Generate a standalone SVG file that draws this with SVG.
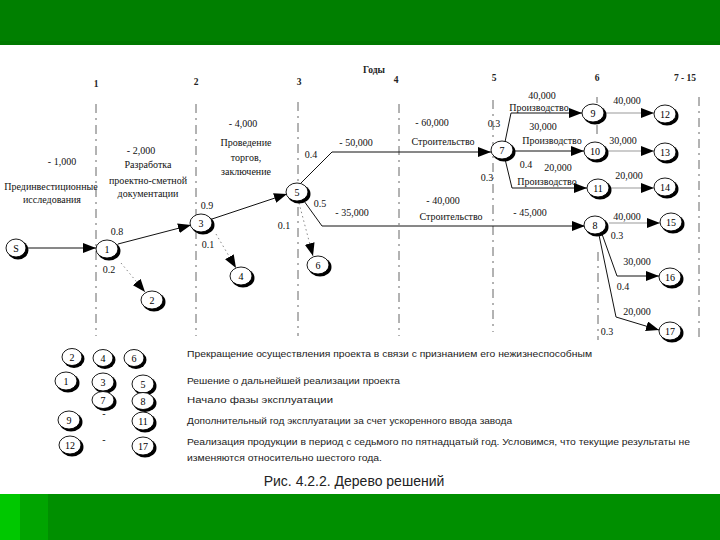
<svg xmlns="http://www.w3.org/2000/svg" width="720" height="540" viewBox="0 0 720 540">
<defs>
<style>
.t{font-family:"Liberation Serif","DejaVu Serif",serif;font-size:10px;fill:#111;text-anchor:middle}
.yr{font-family:"Liberation Serif","DejaVu Serif",serif;font-size:9.5px;font-weight:bold;fill:#222;text-anchor:middle}
.lg{font-family:"Liberation Sans","DejaVu Sans",sans-serif;font-size:9.5px;fill:#222}
.cap{font-family:"Liberation Sans","DejaVu Sans",sans-serif;font-size:14px;fill:#222;text-anchor:middle}
.sh{fill:#000}
.fc{fill:#fff;stroke:#000;stroke-width:0.9}
.nt{font-family:"Liberation Serif","DejaVu Serif",serif;font-size:10px;fill:#000;text-anchor:middle}
.yl{stroke:#666;stroke-width:1;stroke-dasharray:9 5 2 5;fill:none}
.e{stroke:#111;stroke-width:1;fill:none;marker-end:url(#ah)}
.g{stroke:#999;stroke-width:1;fill:none;marker-end:url(#ah)}
.d{stroke:#888;stroke-width:1;stroke-dasharray:1.5 3;fill:none;marker-end:url(#ah)}
</style>
<marker id="ah" markerUnits="userSpaceOnUse" markerWidth="13" markerHeight="10" refX="13" refY="5" orient="auto">
<path d="M0,0 L13,5 L0,10 z" fill="#000"/>
</marker>
</defs>
<rect x="0" y="0" width="720" height="540" fill="#fff"/>
<rect x="0" y="0" width="720" height="45" fill="#007f00"/>
<rect x="0" y="41" width="720" height="4" fill="#007800"/>
<rect x="0" y="494" width="720" height="46" fill="#008f00"/>
<rect x="0" y="494" width="48" height="46" fill="#00a400"/>
<rect x="0" y="494" width="20" height="46" fill="#00c800"/>

<g id="years">
<text class="yr" x="374" y="73">Годы</text>
<text class="yr" x="96" y="87">1</text>
<text class="yr" x="196" y="85">2</text>
<text class="yr" x="299" y="85">3</text>
<text class="yr" x="396" y="83">4</text>
<text class="yr" x="494" y="81">5</text>
<text class="yr" x="597" y="81">6</text>
<text class="yr" x="685" y="81">7 - 15</text>
<path class="yl" d="M96,104 V336 M196,104 V336 M298,102 V336 M399,104 V336 M493,100 V332 M597,97 V103 M597,125 V136 M598,252 V340 M699,97 V340"/>
</g>

<g id="connectors">
<path class="e" d="M26,248 H96"/>
<path class="e" d="M118,244 L191,225"/>
<path class="d" d="M121,263 L145,292"/>
<path class="e" d="M212,219 L287,194"/>
<path class="d" d="M216,234 L236,268"/>
<path class="d" d="M299,203 L313,256"/>
<path class="e" d="M301,183 L332,152 H491"/>
<path class="e" d="M304,201 L322,226 H585"/>
<path class="e" d="M505,142 L511,113 H582"/>
<path class="e" d="M513,151 H584"/>
<path class="e" d="M505,159 L512,188 H587"/>
<path class="g" d="M606,113 H654"/>
<path class="g" d="M608,151 H654"/>
<path class="g" d="M611,188 H654"/>
<path class="g" d="M609,223 H660"/>
<path class="e" d="M602,234 L617,276 H659"/>
<path class="e" d="M599,235 L616,317 L659,330"/>
</g>

<g id="labels">
<text class="t" x="62" y="165">- 1,000</text>
<text class="t" x="51" y="190">Прединвестиционные</text>
<text class="t" x="52" y="203">исследования</text>
<text class="t" x="141" y="154">- 2,000</text>
<text class="t" x="148" y="168">Разработка</text>
<text class="t" x="148" y="184">проектно-сметной</text>
<text class="t" x="148" y="197">документации</text>
<text class="t" x="243" y="127">- 4,000</text>
<text class="t" x="246" y="146">Проведение</text>
<text class="t" x="246" y="161">торгов,</text>
<text class="t" x="246" y="175">заключение</text>
<text class="t" x="117" y="235">0.8</text>
<text class="t" x="109" y="273">0.2</text>
<text class="t" x="207" y="209">0.9</text>
<text class="t" x="208" y="248">0.1</text>
<text class="t" x="311" y="158">0.4</text>
<text class="t" x="320" y="207">0.5</text>
<text class="t" x="284" y="229">0.1</text>
<text class="t" x="356" y="146">- 50,000</text>
<text class="t" x="432" y="126">- 60,000</text>
<text class="t" x="443" y="145">Строительство</text>
<text class="t" x="352" y="216">- 35,000</text>
<text class="t" x="443" y="204">- 40,000</text>
<text class="t" x="451" y="220">Строительство</text>
<text class="t" x="530" y="216">- 45,000</text>
<text class="t" x="494" y="127">0.3</text>
<text class="t" x="542" y="99">40,000</text>
<text class="t" x="539" y="111">Производство</text>
<text class="t" x="543" y="130">30,000</text>
<text class="t" x="552" y="144">Производство</text>
<text class="t" x="526" y="168">0.4</text>
<text class="t" x="558" y="171">20,000</text>
<text class="t" x="487" y="181">0.3</text>
<text class="t" x="547" y="185">Производство</text>
<text class="t" x="627" y="104">40,000</text>
<text class="t" x="623" y="144">30,000</text>
<text class="t" x="629" y="179">20,000</text>
<text class="t" x="627" y="220">40,000</text>
<text class="t" x="617" y="239">0.3</text>
<text class="t" x="637" y="265">30,000</text>
<text class="t" x="623" y="290">0.4</text>
<text class="t" x="637" y="315">20,000</text>
<text class="t" x="607" y="335">0.3</text>
</g>

<g id="node-S"><ellipse class="sh" cx="18" cy="250" rx="10.5" ry="9.5"/><ellipse class="fc" cx="16" cy="248" rx="10" ry="9"/><text class="nt" x="16" y="251.5">S</text></g>
<g id="node-1"><ellipse class="sh" cx="109" cy="251" rx="11.5" ry="9.5"/><ellipse class="fc" cx="107" cy="249" rx="11" ry="9"/><text class="nt" x="107" y="252.5">1</text></g>
<g id="node-2"><ellipse class="sh" cx="154" cy="302" rx="11.5" ry="9.5"/><ellipse class="fc" cx="152" cy="300" rx="11" ry="9"/><text class="nt" x="152" y="303.5">2</text></g>
<g id="node-3"><ellipse class="sh" cx="203" cy="225" rx="11.5" ry="9.5"/><ellipse class="fc" cx="201" cy="223" rx="11" ry="9"/><text class="nt" x="201" y="226.5">3</text></g>
<g id="node-4"><ellipse class="sh" cx="243" cy="278" rx="11.5" ry="9.5"/><ellipse class="fc" cx="241" cy="276" rx="11" ry="9"/><text class="nt" x="241" y="279.5">4</text></g>
<g id="node-5"><ellipse class="sh" cx="299" cy="194" rx="11.5" ry="9.5"/><ellipse class="fc" cx="297" cy="192" rx="11" ry="9"/><text class="nt" x="297" y="195.5">5</text></g>
<g id="node-6"><ellipse class="sh" cx="320" cy="267" rx="11.5" ry="9.5"/><ellipse class="fc" cx="318" cy="265" rx="11" ry="9"/><text class="nt" x="318" y="268.5">6</text></g>
<g id="node-7"><ellipse class="sh" cx="504" cy="152" rx="11.5" ry="9.5"/><ellipse class="fc" cx="502" cy="150" rx="11" ry="9"/><text class="nt" x="502" y="153.5">7</text></g>
<g id="node-8"><ellipse class="sh" cx="597" cy="227" rx="11.5" ry="9.5"/><ellipse class="fc" cx="595" cy="225" rx="11" ry="9"/><text class="nt" x="595" y="228.5">8</text></g>
<g id="node-9"><ellipse class="sh" cx="595" cy="115" rx="11.5" ry="9.5"/><ellipse class="fc" cx="593" cy="113" rx="11" ry="9"/><text class="nt" x="593" y="116.5">9</text></g>
<g id="node-10"><ellipse class="sh" cx="597" cy="153" rx="11.5" ry="9.5"/><ellipse class="fc" cx="595" cy="151" rx="11" ry="9"/><text class="nt" x="595" y="154.5">10</text></g>
<g id="node-11"><ellipse class="sh" cx="600" cy="190" rx="11.5" ry="9.5"/><ellipse class="fc" cx="598" cy="188" rx="11" ry="9"/><text class="nt" x="598" y="191.5">11</text></g>
<g id="node-12"><ellipse class="sh" cx="667" cy="116" rx="11.5" ry="9.5"/><ellipse class="fc" cx="665" cy="114" rx="11" ry="9"/><text class="nt" x="665" y="117.5">12</text></g>
<g id="node-13"><ellipse class="sh" cx="667" cy="154" rx="11.5" ry="9.5"/><ellipse class="fc" cx="665" cy="152" rx="11" ry="9"/><text class="nt" x="665" y="155.5">13</text></g>
<g id="node-14"><ellipse class="sh" cx="667" cy="189" rx="11.5" ry="9.5"/><ellipse class="fc" cx="665" cy="187" rx="11" ry="9"/><text class="nt" x="665" y="190.5">14</text></g>
<g id="node-15"><ellipse class="sh" cx="673" cy="224" rx="11.5" ry="9.5"/><ellipse class="fc" cx="671" cy="222" rx="11" ry="9"/><text class="nt" x="671" y="225.5">15</text></g>
<g id="node-16"><ellipse class="sh" cx="672" cy="279" rx="11.5" ry="9.5"/><ellipse class="fc" cx="670" cy="277" rx="11" ry="9"/><text class="nt" x="670" y="280.5">16</text></g>
<g id="node-17"><ellipse class="sh" cx="672" cy="333" rx="11.5" ry="9.5"/><ellipse class="fc" cx="670" cy="331" rx="11" ry="9"/><text class="nt" x="670" y="334.5">17</text></g>

<g id="legend">
<g id="lg-2"><ellipse class="sh" cx="74" cy="359" rx="10.5" ry="9"/><ellipse class="fc" cx="72" cy="357" rx="10" ry="8.5"/><text class="nt" x="72" y="360.5">2</text></g>
<g id="lg-4"><ellipse class="sh" cx="105" cy="360" rx="10.5" ry="9"/><ellipse class="fc" cx="103" cy="358" rx="10" ry="8.5"/><text class="nt" x="103" y="361.5">4</text></g>
<g id="lg-6"><ellipse class="sh" cx="136" cy="360" rx="10.5" ry="9"/><ellipse class="fc" cx="134" cy="358" rx="10" ry="8.5"/><text class="nt" x="134" y="361.5">6</text></g>
<g id="lg-1"><ellipse class="sh" cx="68" cy="383" rx="11.5" ry="9.5"/><ellipse class="fc" cx="66" cy="381" rx="11" ry="9"/><text class="nt" x="66" y="384.5">1</text></g>
<g id="lg-3"><ellipse class="sh" cx="105" cy="384" rx="11.5" ry="9.5"/><ellipse class="fc" cx="103" cy="382" rx="11" ry="9"/><text class="nt" x="103" y="385.5">3</text></g>
<g id="lg-5"><ellipse class="sh" cx="145" cy="386" rx="11.5" ry="9.5"/><ellipse class="fc" cx="143" cy="384" rx="11" ry="9"/><text class="nt" x="143" y="387.5">5</text></g>
<g id="lg-7"><ellipse class="sh" cx="105" cy="402" rx="11.5" ry="9"/><ellipse class="fc" cx="103" cy="400" rx="11" ry="8.5"/><text class="nt" x="103" y="403.5">7</text></g>
<g id="lg-8"><ellipse class="sh" cx="145" cy="403" rx="11.5" ry="9"/><ellipse class="fc" cx="143" cy="401" rx="11" ry="8.5"/><text class="nt" x="143" y="404.5">8</text></g>
<g id="lg-9"><ellipse class="sh" cx="71" cy="422" rx="11.5" ry="9.5"/><ellipse class="fc" cx="69" cy="420" rx="11" ry="9"/><text class="nt" x="69" y="423.5">9</text></g>
<text class="t" x="104" y="417">-</text>
<g id="lg-11"><ellipse class="sh" cx="145" cy="423" rx="11.5" ry="9.5"/><ellipse class="fc" cx="143" cy="421" rx="11" ry="9"/><text class="nt" x="143" y="424.5">11</text></g>
<g id="lg-12"><ellipse class="sh" cx="72" cy="447" rx="11.5" ry="9.5"/><ellipse class="fc" cx="70" cy="445" rx="11" ry="9"/><text class="nt" x="70" y="448.5">12</text></g>
<text class="t" x="104" y="443">-</text>
<g id="lg-17"><ellipse class="sh" cx="145" cy="448" rx="11.5" ry="9.5"/><ellipse class="fc" cx="143" cy="446" rx="11" ry="9"/><text class="nt" x="143" y="449.5">17</text></g>
<text class="lg" x="187" y="356.5" textLength="405" lengthAdjust="spacingAndGlyphs">Прекращение осуществления проекта в связи с признанием его нежизнеспособным</text>
<text class="lg" x="187" y="383.5" textLength="213" lengthAdjust="spacingAndGlyphs">Решение о дальнейшей реализации проекта</text>
<text class="lg" x="187" y="402.5" textLength="146" lengthAdjust="spacingAndGlyphs">Начало фазы эксплуатации</text>
<text class="lg" x="187" y="423.5" textLength="325" lengthAdjust="spacingAndGlyphs">Дополнительный год эксплуатации за счет ускоренного ввода завода</text>
<text class="lg" x="187" y="444.5" textLength="503" lengthAdjust="spacingAndGlyphs">Реализация продукции в период с седьмого по пятнадцатый год. Условимся, что текущие результаты не</text>
<text class="lg" x="187" y="460.5" textLength="195" lengthAdjust="spacingAndGlyphs">изменяются относительно шестого года.</text>
<text class="cap" x="354" y="486">Рис. 4.2.2. Дерево решений</text>
</g>
</svg>
